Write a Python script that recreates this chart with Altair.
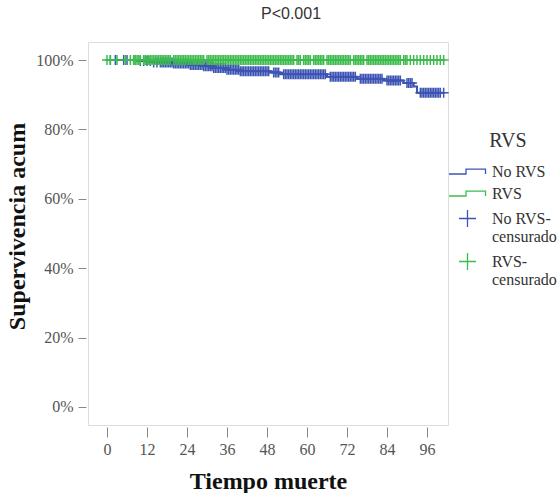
import altair as alt
import pandas as pd
import numpy as np

# Kaplan-Meier step curve, group "No RVS" (time in months, survival in %)
step_t_no = [0, 9, 14, 20, 25, 29, 32, 36, 40, 49, 52, 66, 75, 83, 89, 92, 93, 101]
step_s_no = [100, 99.7, 99.3, 99.0, 98.6, 98.2, 97.7, 97.2, 96.8, 96.4, 95.9, 95.2, 94.6, 94.1, 93.4, 92.4, 90.6, 90.6]
# group "RVS"
step_t_si = [0, 101]
step_s_si = [100, 100]

# censoring times
cens_no = [1, 2.5, 5, 6, 8, 10, 11, 12, 13, 14, 15, 16, 16.5, 17, 17.5, 18, 18.5, 19, 19.5, 20,
           20.5, 21, 21.5, 22, 22.5, 23, 23.5, 24, 24.5, 25, 25.5, 26, 26.5, 27, 27.5, 28, 28.5,
           29, 29.5, 30, 30.5, 31, 31.5, 32, 32.5, 33, 33.5, 34, 34.5, 35, 35.5, 36, 36.5, 37,
           37.5, 38, 38.5, 39, 39.5, 40, 40.5, 41, 41.5, 42, 42.5, 43, 43.5, 44, 44.5, 45, 45.5,
           46, 46.5, 47, 47.5, 48, 48.5, 50, 50.5, 51, 51.5, 53, 53.5, 54, 54.5, 55, 55.5, 56,
           56.5, 57, 57.5, 58, 58.5, 59, 59.5, 60, 60.5, 61, 61.5, 62, 62.5, 63, 63.5, 64, 64.5,
           65, 65.5, 67, 67.5, 68, 68.5, 69, 69.5, 70, 70.5, 71, 71.5, 72, 72.5, 73, 73.5, 74,
           74.5, 76, 76.5, 77, 77.5, 78, 78.5, 79, 79.5, 80, 80.5, 81, 81.5, 82, 82.5, 84, 84.5,
           85, 85.5, 86, 86.5, 87, 87.5, 88, 90, 90.5, 91, 91.5, 94, 94.5, 95, 95.5, 96, 96.5,
           97, 97.5, 98, 98.5, 99, 99.5, 100, 101]
cens_si = [0, 1, 3, 5.5, 7, 8, 8.5, 9, 9.5, 10, 11, 11.5, 12, 12.5, 13, 13.5, 14, 14.5, 15, 15.5,
           16, 16.5, 17, 17.5, 18, 18.5, 19, 20, 20.5, 21, 21.5, 22, 22.5, 23, 23.5, 24, 24.5, 25,
           25.5, 26, 26.5, 27, 27.5, 28, 28.5, 29, 30, 30.5, 31, 31.5, 32, 32.5, 33, 33.5, 34,
           34.5, 35, 35.5, 36, 36.5, 37, 37.5, 38, 38.5, 39, 39.5, 40, 40.5, 41, 41.5, 42, 42.5,
           43, 43.5, 44, 44.5, 45, 45.5, 46, 46.5, 47, 47.5, 48, 48.5, 49, 49.5, 50, 50.5, 51,
           51.5, 52, 52.5, 53, 53.5, 54, 54.5, 55, 55.5, 56, 57, 57.5, 58, 59, 59.5, 60, 60.5, 61,
           62, 62.5, 63, 63.5, 64, 64.5, 65, 66, 66.5, 67, 67.5, 68, 68.5, 69, 69.5, 70, 70.5, 71,
           71.5, 72, 72.5, 73, 74, 74.5, 75, 75.5, 76, 76.5, 77, 78, 78.5, 79, 79.5, 80, 80.5, 81,
           81.5, 82, 82.5, 83, 83.5, 84, 84.5, 85, 85.5, 86, 86.5, 87, 87.5, 88, 89, 89.5, 90, 91,
           92, 93, 94, 95, 96, 97, 98, 99, 100, 101]

groups = ["No RVS", "RVS", "No RVS-censurado", "RVS-censurado"]
colors = ["#3d54b4", "#3cbc4c", "#3d54b4", "#3cbc4c"]
x_ticks = [0, 12, 24, 36, 48, 60, 72, 84, 96]
y_ticks = [0, 20, 40, 60, 80, 100]

step_path = "M -2.47 0.33 H -0.2 V -0.33 H 2.4 V 0.33"
cross_path = "M -1.13 0 H 1.13 M 0 -1.13 V 1.13"

lines = pd.concat([
    pd.DataFrame({"t": step_t_no, "s": step_s_no, "grupo": "No RVS"}),
    pd.DataFrame({"t": step_t_si, "s": step_s_si, "grupo": "RVS"}),
])


def surv_at(times, st, ss):
    idx = np.searchsorted(np.array(st), np.array(times), side="right") - 1
    return [ss[i] for i in idx]


cens = pd.concat([
    pd.DataFrame({"t": cens_no, "s": surv_at(cens_no, step_t_no, step_s_no), "grupo": "No RVS-censurado"}),
    pd.DataFrame({"t": cens_si, "s": surv_at(cens_si, step_t_si, step_s_si), "grupo": "RVS-censurado"}),
])

serif = "Liberation Serif"

xenc = alt.X("t:Q", scale=alt.Scale(domain=[-5.7, 102.3], nice=False, zero=False),
             axis=alt.Axis(values=x_ticks, title="Tiempo muerte", grid=False, domain=False,
                           tickSize=10, offset=2, labelPadding=4, titlePadding=12,
                           labelFont=serif, labelFontSize=16, labelColor="#555",
                           tickColor="#888", titleFont=serif, titleFontSize=24,
                           titleFontWeight="bold", titleColor="#111"))
yenc = alt.Y("s:Q", scale=alt.Scale(domain=[-5.2, 105.2], nice=False, zero=False),
             axis=alt.Axis(values=y_ticks, title="Supervivencia acum", grid=False, domain=False,
                           tickSize=8, offset=2, labelPadding=5, titlePadding=6, titleY=184,
                           labelExpr="datum.value + '%'",
                           labelFont=serif, labelFontSize=16, labelColor="#555",
                           tickColor="#888", titleFont=serif, titleFontSize=24,
                           titleFontWeight="bold", titleColor="#111"))

color_scale = alt.Scale(domain=groups, range=colors)
shape_scale = alt.Scale(domain=groups, range=[step_path, step_path, cross_path, cross_path])

legend = alt.Legend(
    title="\u00a0\u00a0\u00a0\u00a0RVS", orient="none", legendX=371, legendY=89,
    titleFont=serif, titleFontSize=20, titleFontWeight="normal", titleColor="#333",
    titleAnchor="middle", titlePadding=12,
    labelFont=serif, labelFontSize=16, labelColor="#333", labelOffset=16,
    symbolSize=225, symbolStrokeWidth=1.3, symbolFillColor="transparent",
    rowPadding=5, padding=0,
    labelExpr="datum.label == 'No RVS-censurado' ? ['No RVS-', 'censurado'] : "
              "datum.label == 'RVS-censurado' ? ['RVS-', 'censurado'] : datum.label",
)

line_layer = alt.Chart(lines).mark_line(interpolate="step-after", strokeWidth=2).encode(
    x=xenc, y=yenc,
    color=alt.Color("grupo:N", scale=color_scale, legend=legend),
    detail="grupo:N",
)

point_layer = alt.Chart(cens).mark_point(filled=False, size=78, strokeWidth=1.5, opacity=1).encode(
    x=xenc, y=yenc,
    color=alt.Color("grupo:N", scale=color_scale, legend=legend),
    shape=alt.Shape("grupo:N", scale=shape_scale, legend=legend),
)

chart = alt.layer(line_layer, point_layer).properties(
    width=360, height=383,
    autosize=alt.AutoSizeParams(type="none"),
    padding={"left": 88, "top": 42, "right": 112, "bottom": 68},
    title=alt.TitleParams("P<0.001", font="Liberation Sans", fontSize=16, fontWeight="normal",
                          color="#333", anchor="middle", dx=23, offset=20),
).configure_view(fill="#f0f0f0", stroke="#6a6a6a", strokeWidth=1.5).configure(
    background="white", font=serif
)

chart.save("out.html", embed_options={"renderer": "svg", "actions": False})
